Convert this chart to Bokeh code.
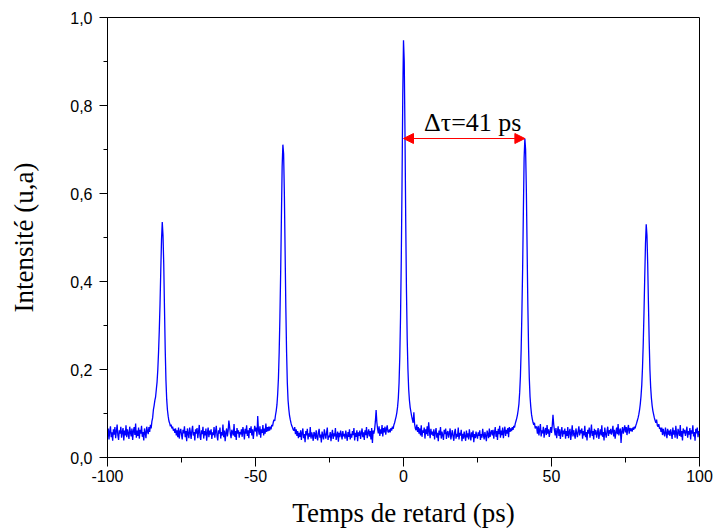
import numpy as np
from bokeh.plotting import figure
from bokeh.models import Label, Arrow, NormalHead, FixedTicker, ColumnDataSource
from bokeh.embed import file_html
from bokeh.resources import INLINE

# ---------------- data ----------------
# sampled delay grid: -100 ps .. 100 ps every 0.25 ps
x_start = -100.0
x_step = 0.25

# intensity, -100 .. -50.25 ps (rows of 5 ps)
intensity_a = [
    0.048, 0.066, 0.041, 0.060, 0.071, 0.046, 0.057, 0.038, 0.064, 0.052, 0.069, 0.044, 0.059, 0.075, 0.050, 0.040, 0.062, 0.054, 0.070, 0.045,
    0.058, 0.067, 0.039, 0.061, 0.050, 0.073, 0.046, 0.064, 0.055, 0.042, 0.070, 0.057, 0.048, 0.066, 0.040, 0.060, 0.069, 0.051, 0.077, 0.045,
    0.061, 0.049, 0.068, 0.043, 0.063, 0.054, 0.072, 0.047, 0.058, 0.039, 0.066, 0.056, 0.044, 0.070, 0.060, 0.053, 0.069, 0.058, 0.074, 0.066,
    0.082, 0.090, 0.108, 0.118, 0.130, 0.138, 0.155, 0.172, 0.200, 0.240, 0.290, 0.350, 0.425, 0.495, 0.535, 0.505, 0.440, 0.340, 0.245, 0.175,
    0.132, 0.108, 0.094, 0.083, 0.078, 0.071, 0.075, 0.066, 0.070, 0.061, 0.065, 0.056, 0.066, 0.050, 0.062, 0.046, 0.068, 0.043, 0.059, 0.065,
    0.052, 0.041, 0.063, 0.055, 0.071, 0.046, 0.060, 0.037, 0.066, 0.054, 0.044, 0.068, 0.057, 0.042, 0.061, 0.072, 0.050, 0.058, 0.039, 0.064,
    0.054, 0.067, 0.044, 0.058, 0.074, 0.048, 0.040, 0.062, 0.053, 0.070, 0.043, 0.060, 0.050, 0.066, 0.038, 0.056, 0.068, 0.046, 0.061, 0.052,
    0.064, 0.042, 0.057, 0.051, 0.069, 0.045, 0.059, 0.072, 0.049, 0.039, 0.062, 0.054, 0.068, 0.043, 0.058, 0.050, 0.075, 0.046, 0.061, 0.037,
    0.056, 0.066, 0.048, 0.060, 0.084, 0.070, 0.054, 0.044, 0.063, 0.057, 0.050, 0.076, 0.047, 0.060, 0.040, 0.067, 0.054, 0.062, 0.045, 0.058,
    0.053, 0.064, 0.047, 0.069, 0.058, 0.041, 0.065, 0.054, 0.073, 0.049, 0.062, 0.044, 0.067, 0.056, 0.071, 0.050, 0.064, 0.042, 0.059, 0.072,
]
# intensity, -50 .. -0.25 ps
intensity_b = [
    0.059, 0.068, 0.048, 0.094, 0.062, 0.052, 0.071, 0.045, 0.064, 0.056, 0.074, 0.050, 0.066, 0.054, 0.077, 0.058, 0.069, 0.060, 0.070, 0.061,
    0.070, 0.064, 0.074, 0.071, 0.080, 0.086, 0.083, 0.096, 0.106, 0.120, 0.145, 0.180, 0.240, 0.320, 0.420, 0.545, 0.660, 0.711, 0.690, 0.600,
    0.470, 0.340, 0.240, 0.170, 0.130, 0.110, 0.095, 0.086, 0.078, 0.072, 0.068, 0.063, 0.061, 0.069, 0.053, 0.064, 0.049, 0.060, 0.044, 0.056,
    0.047, 0.062, 0.040, 0.056, 0.066, 0.044, 0.053, 0.035, 0.060, 0.050, 0.065, 0.041, 0.055, 0.047, 0.069, 0.043, 0.057, 0.049, 0.038, 0.058,
    0.054, 0.042, 0.062, 0.047, 0.039, 0.057, 0.065, 0.045, 0.052, 0.034, 0.059, 0.049, 0.041, 0.064, 0.053, 0.043, 0.056, 0.068, 0.040, 0.050,
    0.046, 0.058, 0.037, 0.052, 0.063, 0.042, 0.055, 0.048, 0.067, 0.040, 0.050, 0.059, 0.036, 0.056, 0.046, 0.061, 0.052, 0.041, 0.060, 0.048,
    0.054, 0.043, 0.061, 0.049, 0.038, 0.058, 0.047, 0.064, 0.041, 0.054, 0.045, 0.060, 0.051, 0.067, 0.039, 0.056, 0.047, 0.062, 0.037, 0.057,
    0.049, 0.061, 0.042, 0.055, 0.066, 0.046, 0.057, 0.040, 0.062, 0.051, 0.069, 0.044, 0.056, 0.064, 0.048, 0.060, 0.041, 0.067, 0.033, 0.061,
    0.054, 0.064, 0.082, 0.108, 0.080, 0.065, 0.055, 0.071, 0.049, 0.064, 0.054, 0.074, 0.048, 0.067, 0.057, 0.070, 0.052, 0.065, 0.073, 0.058,
    0.058, 0.064, 0.057, 0.067, 0.061, 0.070, 0.065, 0.074, 0.079, 0.086, 0.093, 0.102, 0.115, 0.135, 0.170, 0.230, 0.320, 0.450, 0.620, 0.820,
]
# intensity, 0 .. 49.75 ps
intensity_c = [
    0.948, 0.900, 0.740, 0.540, 0.380, 0.270, 0.200, 0.155, 0.130, 0.114, 0.104, 0.094, 0.086, 0.079, 0.103, 0.076, 0.066, 0.062, 0.075, 0.058,
    0.069, 0.054, 0.066, 0.050, 0.073, 0.047, 0.062, 0.056, 0.068, 0.043, 0.064, 0.053, 0.071, 0.049, 0.080, 0.060, 0.044, 0.065, 0.052, 0.059,
    0.049, 0.064, 0.041, 0.057, 0.067, 0.045, 0.056, 0.037, 0.061, 0.051, 0.069, 0.043, 0.059, 0.050, 0.040, 0.063, 0.053, 0.066, 0.042, 0.056,
    0.060, 0.045, 0.055, 0.066, 0.041, 0.052, 0.062, 0.048, 0.038, 0.057, 0.065, 0.043, 0.054, 0.047, 0.068, 0.041, 0.056, 0.050, 0.063, 0.037,
    0.054, 0.043, 0.059, 0.048, 0.038, 0.061, 0.046, 0.055, 0.041, 0.064, 0.050, 0.039, 0.057, 0.046, 0.061, 0.035, 0.053, 0.044, 0.059, 0.049,
    0.043, 0.057, 0.049, 0.062, 0.040, 0.053, 0.045, 0.065, 0.051, 0.041, 0.058, 0.049, 0.037, 0.061, 0.053, 0.044, 0.066, 0.047, 0.056, 0.062,
    0.050, 0.063, 0.043, 0.058, 0.069, 0.047, 0.060, 0.040, 0.065, 0.053, 0.072, 0.045, 0.061, 0.051, 0.068, 0.044, 0.059, 0.070, 0.049, 0.063,
    0.054, 0.067, 0.046, 0.069, 0.058, 0.066, 0.060, 0.069, 0.063, 0.072, 0.068, 0.077, 0.083, 0.089, 0.097, 0.108, 0.122, 0.148, 0.185, 0.245,
    0.330, 0.430, 0.560, 0.680, 0.725, 0.700, 0.610, 0.480, 0.350, 0.250, 0.180, 0.138, 0.115, 0.098, 0.088, 0.080, 0.074, 0.079, 0.066, 0.071,
    0.068, 0.054, 0.072, 0.050, 0.064, 0.076, 0.048, 0.062, 0.055, 0.070, 0.045, 0.060, 0.067, 0.051, 0.074, 0.054, 0.064, 0.047, 0.059, 0.069,
]
# intensity, 50 .. 100 ps
intensity_d = [
    0.056, 0.072, 0.097, 0.075, 0.061, 0.050, 0.067, 0.044, 0.059, 0.071, 0.049, 0.064, 0.042, 0.058, 0.069, 0.047, 0.061, 0.053, 0.066, 0.043,
    0.060, 0.049, 0.069, 0.044, 0.058, 0.065, 0.040, 0.055, 0.073, 0.048, 0.062, 0.052, 0.043, 0.066, 0.056, 0.046, 0.060, 0.071, 0.050, 0.063,
    0.055, 0.066, 0.043, 0.060, 0.050, 0.072, 0.046, 0.058, 0.039, 0.063, 0.054, 0.068, 0.045, 0.057, 0.075, 0.049, 0.060, 0.041, 0.065, 0.052,
    0.062, 0.045, 0.056, 0.067, 0.042, 0.055, 0.064, 0.050, 0.073, 0.047, 0.058, 0.039, 0.068, 0.054, 0.045, 0.060, 0.070, 0.049, 0.062, 0.054,
    0.065, 0.052, 0.059, 0.072, 0.048, 0.063, 0.043, 0.057, 0.068, 0.053, 0.076, 0.050, 0.061, 0.066, 0.033, 0.059, 0.069, 0.054, 0.064, 0.073,
    0.057, 0.069, 0.051, 0.065, 0.074, 0.054, 0.067, 0.060, 0.066, 0.059, 0.068, 0.063, 0.070, 0.066, 0.073, 0.078, 0.084, 0.090, 0.098, 0.108,
    0.122, 0.140, 0.165, 0.205, 0.260, 0.330, 0.410, 0.485, 0.530, 0.505, 0.440, 0.350, 0.265, 0.200, 0.160, 0.135, 0.118, 0.106, 0.098, 0.090,
    0.084, 0.079, 0.086, 0.073, 0.070, 0.076, 0.065, 0.068, 0.058, 0.068, 0.051, 0.065, 0.055, 0.048, 0.068, 0.056, 0.044, 0.065, 0.052, 0.061,
    0.049, 0.064, 0.055, 0.042, 0.068, 0.052, 0.062, 0.045, 0.072, 0.054, 0.043, 0.065, 0.057, 0.049, 0.074, 0.047, 0.060, 0.039, 0.066, 0.055,
    0.063, 0.049, 0.058, 0.070, 0.045, 0.060, 0.052, 0.067, 0.041, 0.062, 0.054, 0.073, 0.048, 0.058, 0.038, 0.065, 0.055, 0.068, 0.046, 0.060,
    0.054,
]

x_ticks = [-100, -50, 0, 50, 100]
x_tick_labels = ["-100", "-50", "0", "50", "100"]
x_minor_ticks = [-75, -25, 25, 75]
y_ticks = [0.0, 0.2, 0.4, 0.6, 0.8, 1.0]
y_tick_labels = ["0,0", "0,2", "0,4", "0,6", "0,8", "1,0"]
y_minor_ticks = [0.1, 0.3, 0.5, 0.7, 0.9]

delay_start = 0.0      # ps, central peak
delay_end = 41.0       # ps, first satellite peak
delay_level = 0.725    # height of the double arrow
delay_text = "\u0394\u03c4=41 ps"
delay_text_x = 23.4
delay_text_y = 0.762

x_title = "Temps de retard (ps)"
y_title = "Intensit\u00e9 (u,a)"

# ---------------- build ----------------
intensity = intensity_a + intensity_b + intensity_c + intensity_d
time_ps = x_start + x_step * np.arange(len(intensity))
src = ColumnDataSource(data=dict(t=time_ps, i=np.array(intensity)))

p = figure(width=716, height=532, x_range=(-100, 100), y_range=(0, 1.0),
           output_backend="svg", toolbar_location=None,
           min_border_left=107, min_border_right=17, min_border_top=17, min_border_bottom=75,
           background_fill_color="white", border_fill_color="white",
           x_axis_label=x_title, y_axis_label=y_title)

p.line("t", "i", source=src, line_color="#0000ff", line_width=1.3)

p.xgrid.visible = False
p.ygrid.visible = False
p.outline_line_color = "black"
p.outline_line_width = 1
p.outline_line_alpha = 1.0

for ax in (p.xaxis[0], p.yaxis[0]):
    ax.axis_line_color = "black"
    ax.axis_line_width = 1
    ax.major_tick_line_color = "black"
    ax.minor_tick_line_color = "black"
    ax.major_tick_in = 0
    ax.minor_tick_in = 0
    ax.major_label_text_font = "Liberation Sans"
    ax.major_label_text_font_size = "16px"
    ax.major_label_text_color = "black"
    ax.axis_label_text_font = "Liberation Serif"
    ax.axis_label_text_font_size = "27px"
    ax.axis_label_text_font_style = "normal"
    ax.axis_label_text_color = "black"

p.xaxis.ticker = FixedTicker(ticks=x_ticks, minor_ticks=x_minor_ticks)
p.xaxis.major_label_overrides = dict(zip(x_ticks, x_tick_labels))
p.xaxis.major_tick_out = 9
p.xaxis.minor_tick_out = 5
p.xaxis.major_label_standoff = 3
p.xaxis.axis_label_standoff = 13

p.yaxis.ticker = FixedTicker(ticks=y_ticks, minor_ticks=y_minor_ticks)
p.yaxis.major_label_overrides = dict(zip(y_ticks, y_tick_labels))
p.yaxis.major_tick_out = 8
p.yaxis.minor_tick_out = 4
p.yaxis.major_label_standoff = 7
p.yaxis.axis_label_standoff = 28

# delay annotation
p.add_layout(Arrow(start=NormalHead(size=10, fill_color="red", line_color="red", line_width=1),
                   end=NormalHead(size=10, fill_color="red", line_color="red", line_width=1),
                   x_start=delay_start, y_start=delay_level, x_end=delay_end, y_end=delay_level,
                   line_color="red", line_width=1.2))
p.add_layout(Label(x=delay_text_x, y=delay_text_y, text=delay_text,
                   text_font="Liberation Serif", text_font_size="26px",
                   text_color="black", text_align="center", text_baseline="alphabetic"))

open("out.html", "w").write(file_html(p, INLINE))
